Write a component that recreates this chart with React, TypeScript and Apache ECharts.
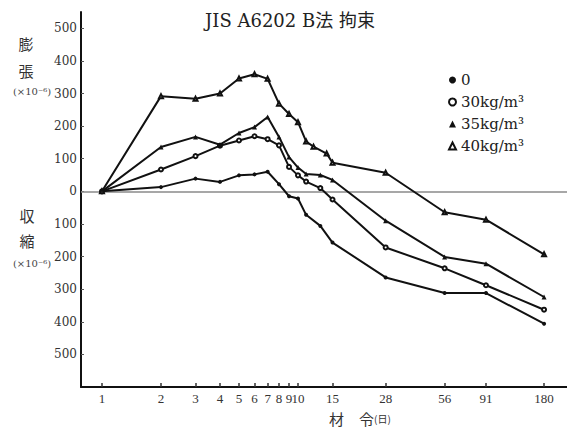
import React, { useEffect, useRef } from 'react';
import * as echarts from 'echarts';

// Ages (days) at which the x-axis is labelled
const tickDays = [1, 2, 3, 4, 5, 6, 7, 8, 9, 10, 15, 28, 56, 91, 180];
// Strain tick values (×10^-6); positive = expansion, negative = shrinkage
const yTicks = [-500, -400, -300, -200, -100, 0, 100, 200, 300, 400, 500];

const seriesNames = ['0', '30kg/m³', '35kg/m³', '40kg/m³'];

const days0 = [1, 2, 3, 4, 5, 6, 7, 8, 9, 10, 11, 13, 15, 28, 56, 91, 180];
const vals0 = [0, 13, 39, 29, 49, 52, 60, 22, -15, -22, -72, -106, -157, -264, -312, -312, -406];

const days30 = [1, 2, 3, 4, 5, 6, 7, 8, 9, 10, 11, 13, 15, 28, 56, 91, 180];
const vals30 = [0, 67, 108, 140, 156, 169, 160, 141, 75, 49, 30, 10, -25, -172, -236, -288, -363];

const days35 = [1, 2, 3, 4, 5, 6, 7, 8, 9, 10, 11, 13, 15, 28, 56, 91, 180];
const vals35 = [0, 136, 167, 143, 179, 197, 228, 167, 105, 73, 53, 50, 35, -90, -201, -222, -324];

const days40 = [1, 2, 3, 4, 5, 6, 7, 8, 9, 10, 11, 12, 14, 15, 28, 56, 91, 180];
const vals40 = [0, 292, 284, 300, 346, 359, 345, 269, 237, 212, 153, 137, 116, 88, 57, -64, -87, -193];

const X_MIN = 0.7816;
const X_MAX = 235.7;

const pairs = (d: number[], v: number[]) => d.map((x, i) => [x, v[i]]);

const serif = "'DejaVu Serif', 'Liberation Serif', 'Noto Sans CJK JP', serif";
const cjk = "'Noto Sans CJK JP', sans-serif";

export default function App() {
  const ref = useRef<HTMLDivElement>(null);
  useEffect(() => {
    document.body.style.margin = '0';
    if (!ref.current) return;
    const chart = echarts.init(ref.current, null, { renderer: 'svg' });
    const lineColor = '#111';
    const mk = (name: string, data: number[][], symbol: string, size: number, extra: any = {}) => ({
      name,
      type: 'line',
      xAxisIndex: 0,
      data,
      symbol,
      symbolSize: size,
      showSymbol: true,
      lineStyle: { color: lineColor, width: 2 },
      itemStyle: { color: lineColor, borderWidth: 1 },
      z: 3,
      ...extra,
    });
    chart.setOption({
      animation: false,
      backgroundColor: '#fff',
      grid: { left: 81, right: 0, top: 12, bottom: 40, containLabel: false, outerBoundsMode: 'none' },
      xAxis: [
        {
          type: 'log',
          logBase: 10,
          min: X_MIN,
          max: X_MAX,
          position: 'top',
          show: false,
        },
        {
          type: 'value',
          min: Math.log10(X_MIN),
          max: Math.log10(X_MAX),
          position: 'bottom',
          axisLine: { show: true, onZero: false, lineStyle: { color: '#111', width: 2 } },
          axisTick: {
            show: true,
            inside: true,
            length: 4,
            customValues: tickDays.map((d) => Math.log10(d)),
            lineStyle: { color: '#333', width: 1.5 },
          },
          axisLabel: {
            show: true,
            customValues: tickDays.map((d) => Math.log10(d)),
            formatter: (v: number) => String(Math.round(Math.pow(10, v))),
            fontFamily: "'Liberation Serif', serif",
            fontSize: 13,
            color: '#333',
            margin: 5,
          },
          splitLine: { show: false },
        },
      ],
      yAxis: {
        type: 'value',
        min: -600,
        max: 550,
        interval: 100,
        axisLine: { show: true, onZero: false, lineStyle: { color: '#111', width: 2 } },
        axisTick: {
          show: true,
          inside: true,
          length: 3,
          customValues: yTicks,
          lineStyle: { color: '#555', width: 1 },
        },
        axisLabel: {
          show: true,
          customValues: yTicks,
          formatter: (v: number) => String(Math.abs(v)),
          fontFamily: serif,
          fontSize: 12,
          color: '#333',
          margin: 4,
        },
        splitLine: { show: false },
      },
      legend: {
        orient: 'vertical',
        left: 443,
        top: 67,
        itemWidth: 7,
        itemHeight: 7,
        itemGap: 6,
        textStyle: { fontFamily: serif, fontSize: 15, color: '#222', lineHeight: 16 },
        data: [
          { name: seriesNames[0], icon: 'circle' },
          { name: seriesNames[1], icon: 'emptyCircle' },
          { name: seriesNames[2], icon: 'triangle' },
          { name: seriesNames[3], icon: 'emptyTriangle' },
        ],
      },
      series: [
        mk(seriesNames[0], pairs(days0, vals0), 'circle', 4, {
          markLine: {
            silent: true,
            symbol: 'none',
            label: { show: false },
            lineStyle: { color: '#8a8a8a', width: 1.5, type: 'solid' },
            data: [{ yAxis: 0 }],
            z: 1,
          },
        }),
        mk(seriesNames[1], pairs(days30, vals30), 'emptyCircle', 4),
        mk(seriesNames[2], pairs(days35, vals35), 'triangle', 5),
        mk(seriesNames[3], pairs(days40, vals40), 'emptyTriangle', 4),
      ],
      graphic: [
        {
          type: 'text',
          x: 290,
          y: 20,
          style: {
            text: 'JIS A6202 B法 拘束',
            fontFamily: serif,
            fontSize: 18,
            fill: '#222',
            align: 'center',
            verticalAlign: 'middle',
          },
        },
        { type: 'text', x: 26, y: 43, style: { text: '膨', fontFamily: cjk, fontSize: 15, fill: '#333', align: 'center', verticalAlign: 'middle' } },
        { type: 'text', x: 26, y: 70, style: { text: '張', fontFamily: cjk, fontSize: 15, fill: '#333', align: 'center', verticalAlign: 'middle' } },
        { type: 'text', x: 32, y: 91, style: { text: '(×10⁻⁶)', fontFamily: serif, fontSize: 10, fill: '#444', align: 'center', verticalAlign: 'middle' } },
        { type: 'text', x: 27, y: 215, style: { text: '収', fontFamily: cjk, fontSize: 15, fill: '#333', align: 'center', verticalAlign: 'middle' } },
        { type: 'text', x: 27, y: 240, style: { text: '縮', fontFamily: cjk, fontSize: 15, fill: '#333', align: 'center', verticalAlign: 'middle' } },
        { type: 'text', x: 32, y: 263, style: { text: '(×10⁻⁶)', fontFamily: serif, fontSize: 10, fill: '#444', align: 'center', verticalAlign: 'middle' } },
        {
          type: 'text',
          x: 329,
          y: 418,
          style: {
            text: '{a|材　令}{b|(日)}',
            verticalAlign: 'middle',
            rich: {
              a: { fontFamily: cjk, fontSize: 15, fill: '#333' },
              b: { fontFamily: cjk, fontSize: 10, fill: '#333' },
            },
          },
        },
      ],
    });
    return () => chart.dispose();
  }, []);
  return <div ref={ref} style={{ width: 567, height: 427 }} />;
}
